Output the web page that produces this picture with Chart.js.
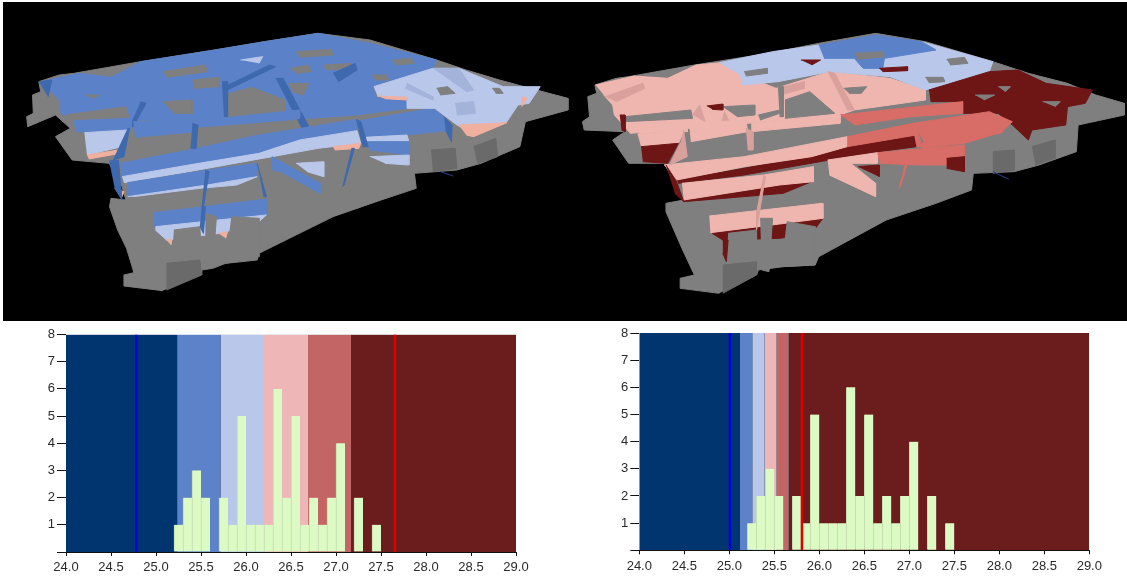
<!DOCTYPE html>
<html><head><meta charset="utf-8">
<script src="https://cdn.jsdelivr.net/npm/chart.js@4"></script>
<style>
html,body{margin:0;padding:0;background:#fff;width:1127px;height:581px;overflow:hidden}
canvas{position:absolute;display:block}
#panel{position:absolute;left:3px;top:2px;width:1124px;height:319px;background:#000}
</style></head><body>
<div id="panel"></div>
<canvas id="scene" width="1127" height="322" style="left:0;top:0"></canvas>
<canvas id="histA" width="560" height="259" style="left:0;top:322px"></canvas>
<canvas id="histB" width="567" height="259" style="left:560px;top:322px"></canvas>
<script>
// ---- histogram data ----
const binCentres=[25.25,25.35,25.45,25.55,25.75,25.85,25.95,26.05,26.15,26.25,26.35,26.45,26.55,26.65,26.75,26.85,26.95,27.05,27.25,27.45];
const binCounts=[1,2,3,2,2,1,5,1,1,1,6,2,5,1,2,1,2,4,2,1];
const xTicks=[24,24.5,25,25.5,26,26.5,27,27.5,28,28.5,29];
const yTicks=[0,1,2,3,4,5,6,7,8];
const bandColours=['#00356f','#5c83c9','#b9c7ea','#eeb6b6','#c46565','#6b1c1c'];
const bandEdgesA=[24,25.237,25.719,26.2,26.689,27.167,29];
const bandEdgesB=[24,25.119,25.256,25.393,25.526,25.659,29];
const blueMarkA=24.78, redMarkA=27.655;
const blueMarkB=25.007, redMarkB=25.807;

// ---- rendered scene outlines (zoomed picture units) ----
const C={grey:'#7f7f7f',dgrey:'#6a6a6a',blue:'#5b82c8',dblue:'#3f69ae',light:'#b9c7ea',dlight:'#a3b3da',pink:'#efb6b0',dpink:'#d9a09c',salmon:'#d86c66',dark:'#6e1515',sal:'#f0b0a0'};
const sceneA=[
['grey',[440,872,335,858,335,825,362,818,342,745,318,690,296,620,300,595,340,600,330,560,295,490,195,480,150,410,190,385,150,345,75,380,72,350,90,340,88,285,110,275,105,245,160,225,200,220,380,185,580,150,715,125,860,100,1000,120,1180,180,1260,210,1350,240,1450,270,1535,295,1535,330,1420,365,1405,440,1300,490,1235,510,1120,520,1125,565,1030,600,900,650,700,760,695,780,610,790,575,805,545,810,545,825]],
['dgrey',[1280,440,1340,415,1345,470,1290,490]],['dgrey',[1165,450,1230,445,1235,505,1170,515]],['dgrey',[450,790,540,780,545,825,450,870]],
['blue',[108,245,215,220,300,232,380,185,580,150,715,125,860,100,1000,130,1180,180,1168,210,1010,258,1012,288,1100,295,1100,325,940,345,830,355,530,360,365,360,200,365,165,340,160,300]],
['grey',[440,215,555,195,560,215,450,232]],['grey',[520,240,590,232,590,260,525,265]],['grey',[605,285,680,262,770,300,770,350,610,350]],['grey',[175,345,340,320,350,355,180,370]],['grey',[440,305,520,300,520,340,470,340]],['grey',[800,155,895,148,900,165,810,172]],['grey',[785,205,835,195,840,215,800,220]],['grey',[875,195,950,190,950,205,880,210]],['grey',[1005,225,1045,225,1050,240,1015,240]],['grey',[1060,180,1110,175,1120,190,1070,195]],['grey',[780,250,835,250,820,285,790,275]],['grey',[230,285,270,285,250,295]],['light',[650,180,710,170,700,190]],
['dblue',[745,235,765,235,835,380,815,385]],['dblue',[600,245,615,245,615,350,605,350]],['dblue',[725,195,745,200,605,275,605,260]],['dblue',[380,305,395,310,360,380,350,380]],['dblue',[105,245,140,240,130,290]],['dblue',[900,220,960,190,965,210,915,245]],
['blue',[198,362,355,355,355,392,230,395,205,395]],['light',[228,398,345,390,330,440,235,465]],['sal',[235,465,320,450,315,462,240,477]],
['grey',[365,425,515,405,515,445,370,472]],['blue',[360,365,530,358,530,395,365,412]],['blue',[530,362,810,330,810,355,690,378,535,385]],['grey',[530,385,790,362,790,405,690,420,535,445]],
['blue',[325,490,510,450,700,405,965,358,965,392,810,420,700,460,510,495,330,530]],['light',[330,530,510,495,700,460,810,420,965,392,975,430,860,445,735,470,510,515,335,548]],
['blue',[345,548,560,510,695,490,695,530,610,545,560,560,345,590]],['light',[345,590,560,555,695,530,640,555,540,565,360,590]],['sal',[310,565,335,575,330,590,315,572]],
['light',[800,490,875,485,875,530,830,515]],['blue',[735,470,865,550,865,580,760,515,735,510]],
['blue',[970,362,1170,325,1200,350,1205,392,1100,405,985,410]],['light',[985,412,1100,405,1105,425,990,425]],['blue',[985,425,1105,425,1105,465,1000,450]],['light',[1000,470,1105,465,1105,495,1040,490]],['blue',[830,325,1100,298,1100,325,960,345,835,355]],['sal',[900,440,975,430,970,445,905,450]],
['dblue',[345,385,350,385,335,470,305,480]],['dblue',[295,483,320,480,330,600,310,565]],['dblue',[520,370,535,375,530,445,515,445]],['dblue',[962,358,975,365,995,440,980,440]],['dblue',[1200,350,1222,375,1220,425,1205,392]],
['blue',[415,638,720,597,722,645,595,662,417,680]],['light',[420,680,590,660,720,645,695,670,595,700,450,720,420,690]],['sal',[450,720,465,718,462,735]],['sal',[590,700,615,695,610,715]],
['dblue',[555,510,565,515,550,620,545,620]],['dblue',[545,620,555,620,550,700,540,680]],['dblue',[950,445,958,445,930,555,925,560]],['dblue',[695,490,705,530,720,590,712,590]],
['light',[1010,260,1170,205,1240,205,1360,260,1460,260,1430,310,1400,315,1370,365,1260,390,1235,375,1205,350,1175,325,1100,325,1100,295,1020,288]],
['grey',[1180,265,1210,260,1230,280,1190,285]],['grey',[1330,265,1350,265,1360,280,1340,280]],['dlight',[1170,205,1240,205,1280,270,1260,275]],['dlight',[1230,310,1280,305,1285,340,1235,345]],['dlight',[1100,250,1170,290,1170,300,1095,265]],
['sal',[1240,375,1370,368,1280,410,1260,405]],['sal',[1410,290,1425,295,1410,320]],['sal',[1020,288,1100,292,1100,300,1040,296]],
['grey',[555,640,585,650,575,800,555,790]],['grey',[625,650,700,655,700,770,610,790]],['grey',[470,690,540,680,545,770,465,780]]
];
const sceneB=[
['grey',[420,880,310,865,310,835,350,825,315,745,270,635,270,610,320,600,300,560,265,490,165,490,120,420,155,395,40,390,35,365,55,350,50,290,75,280,70,255,130,235,165,230,350,195,560,160,700,130,860,100,1000,125,1190,185,1290,220,1400,250,1480,285,1560,310,1560,345,1430,375,1425,455,1320,495,1250,515,1135,520,1130,570,1030,610,890,660,700,770,690,795,600,800,530,810,525,825]],
['dgrey',[1300,440,1365,420,1365,475,1310,495]],['dgrey',[1190,455,1250,450,1250,510,1190,520]],['dgrey',[430,795,525,785,525,825,430,880]],
['pink',[72,255,180,228,275,235,355,195,425,188,485,225,580,265,730,215,900,235,1000,270,1000,300,800,330,760,345,500,370,170,400,125,345,120,315,95,285]],
['light',[420,188,570,155,700,135,990,125,1190,185,1180,215,1000,270,900,230,730,215,585,245,485,255,480,225]],
['blue',[700,135,860,105,990,125,1030,150,885,175,880,205,825,205,800,175,715,175]],
['grey',[800,160,880,155,885,170,810,178]],['grey',[1060,178,1110,172,1120,190,1070,195]],['grey',[1000,232,1050,232,1055,245,1010,248]],['grey',[490,215,555,205,555,220,495,228]],['dark',[650,180,705,180,680,195]],['dark',[870,205,950,200,950,212,880,215]],
['grey',[605,300,675,275,745,340,605,355]],['grey',[155,350,340,330,345,355,155,365]],['grey',[430,320,520,315,520,345,470,350]],['grey',[770,265,835,260,820,280,785,280]],['grey',[530,345,590,330,590,340,535,360]],['dark',[140,345,155,345,155,395,145,390]],['dark',[385,318,430,312,430,330,400,328]],
['dpink',[100,290,205,250,210,265,130,305]],['dpink',[725,215,745,220,800,330,780,330]],['dpink',[585,265,660,245,660,265,590,285]],['dpink',[345,345,365,315,380,365]],['dpink',[425,375,435,335,450,370]],
['grey',[585,260,600,260,600,350,590,350]],
['dark',[1010,270,1180,215,1260,210,1340,250,1470,270,1450,310,1400,320,1395,375,1300,390,1290,420,1245,375,1205,340,1105,340,1105,305,1015,305]],
['grey',[1140,285,1195,285,1165,300]],['grey',[1330,305,1380,305,1365,320]],['grey',[1205,260,1240,260,1225,275]],
['salmon',[760,345,1105,305,1105,340,960,350,800,375]],['grey',[835,378,930,370,930,380,840,388]],
['salmon',[965,370,1180,335,1245,365,1210,400,1000,430,985,405]],
['pink',[165,372,330,365,330,395,195,400]],['pink',[190,402,320,395,305,430,200,440]],['dark',[200,440,305,430,275,490,205,485]],
['grey',[340,430,495,410,495,455,345,480]],['grey',[520,395,780,375,780,405,660,425,520,450]],
['pink',[335,370,495,360,500,395,340,425]],['pink',[510,370,760,345,760,370,510,395]],
['dark',[300,540,490,505,680,465,780,435,975,405,975,440,870,455,730,480,490,525,305,550]],
['pink',[265,495,490,470,780,410,780,440,680,470,490,500,300,540]],['salmon',[780,410,965,370,975,405,780,440]],
['dark',[320,600,590,555,680,545,600,580,320,605]],['pink',[315,550,545,525,685,500,685,545,590,555,320,600]],
['dark',[810,500,870,495,870,530]],['pink',[725,480,865,458,865,490,790,490,860,550,860,590,730,525]],
['salmon',[865,458,1110,435,1110,505,1060,495,980,495,870,490]],['dark',[1060,475,1110,470,1110,515,1060,505]],['salmon',[985,430,1220,395,1110,430,990,445]],
['dpink',[320,390,330,470,280,495,310,430]],['dark',[270,495,300,545,320,605,295,580]],['dpink',[495,385,515,395,515,450,500,450]],['salmon',[962,370,975,380,990,440,975,440]],
['dark',[400,698,590,672,712,655,680,700,590,715,430,720,400,700]],['pink',[392,648,710,610,712,655,590,672,395,698]],
['dpink',[545,525,550,530,525,690,525,630]],['salmon',[950,460,958,460,930,560,925,565]],
['grey',[535,655,570,655,560,815,540,810]],['grey',[610,665,690,680,690,795,595,800]],['grey',[445,700,525,690,525,780,440,790]],['dark',[430,720,445,720,440,785,430,760]]
];
const wireA=[1190,515,1225,528];
const wireB=[1190,515,1235,538];

// ---- builders ----
function toPts(a,dx,k){const p=[];for(let i=0;i<a.length;i+=2)p.push({x:a[i]*k+dx,y:a[i+1]});return p;}
function polys(list,dx,k){return list.map(([c,a],i)=>({order:1000-i,data:toPts(a,dx,k),backgroundColor:C[c],borderColor:C[c],borderWidth:1,fill:'shape',showLine:true,tension:0,pointRadius:0,clip:false}));}
function wire(a,dx,k){return {order:0,data:toPts(a,dx,k),borderColor:'#2b3f8f',borderWidth:1,fill:false,showLine:true,pointRadius:0};}
new Chart(document.getElementById('scene'),{type:'scatter',
 data:{datasets:[...polys(sceneA,0,1.11),wire(wireA,0,1.11),...polys(sceneB,1710,1.066),wire(wireB,1710,1.066)]},
 options:{responsive:false,animation:false,events:[],layout:{padding:0},
  plugins:{legend:{display:false},tooltip:{enabled:false},title:{display:false}},
  scales:{x:{type:'linear',min:0,max:3381,display:false},y:{type:'linear',min:0,max:966,reverse:true,display:false}}}});

function hist(id,edges,blue,red,left,top,right,bottom){
 const base={type:'line',order:4,data:[{x:24,y:8},{x:29,y:8}],backgroundColor:'#5a6a80',borderWidth:0,fill:'origin',pointRadius:0};
 const bands=bandColours.map((col,i)=>({type:'line',order:3,data:[{x:edges[i],y:8},{x:edges[i+1],y:8}],backgroundColor:col,borderColor:col,borderWidth:0,fill:'origin',pointRadius:0,tension:0}));
 const bars={type:'bar',order:2,data:binCentres.map((x,i)=>({x,y:binCounts[i]})),backgroundColor:'#dbfac4',borderColor:'#c6dcb0',borderWidth:{left:1,right:0,top:0,bottom:0},borderSkipped:false,categoryPercentage:1,barPercentage:1};
 const mark=(x,col)=>({type:'line',order:1,data:[{x,y:0},{x,y:8}],borderColor:col,borderWidth:2.5,pointRadius:0,fill:false});
 new Chart(document.getElementById(id),{type:'bar',
  data:{datasets:[base,...bands,bars,mark(blue,'#0000d8'),mark(red,'#e00000')]},
  options:{responsive:false,animation:false,events:[],
   layout:{padding:{top:top,right:right,left:0,bottom:0}},
   plugins:{legend:{display:false},tooltip:{enabled:false},title:{display:false}},
   scales:{
    x:{type:'linear',min:24,max:29,offset:false,
     afterBuildTicks:s=>{s.ticks=xTicks.map(v=>({value:v}));},
     afterFit:s=>{s.height=bottom;},
     grid:{offset:false,drawOnChartArea:false,drawTicks:true,tickLength:4,tickColor:'#111'},
     border:{display:true,color:'#111',width:1},
     ticks:{maxRotation:0,autoSkip:false,padding:4,color:'#2a2a2a',font:{family:'Liberation Sans',size:13},callback:v=>Number(v).toFixed(1)}},
    y:{type:'linear',min:0,max:8,
     afterBuildTicks:s=>{s.ticks=yTicks.map(v=>({value:v}));},
     afterFit:s=>{s.width=left;},
     grid:{drawOnChartArea:false,drawTicks:true,tickLength:9,tickColor:'#111'},
     border:{display:false},
     ticks:{padding:2,color:'#2a2a2a',font:{family:'Liberation Sans',size:13},callback:v=>v===0?'':String(v)}}
   }}});
}
hist('histA',bandEdgesA,blueMarkA,redMarkA,66,12.5,44,29);
hist('histB',bandEdgesB,blueMarkB,redMarkB,79.3,11,37.7,30.7);
</script>
</body></html>
